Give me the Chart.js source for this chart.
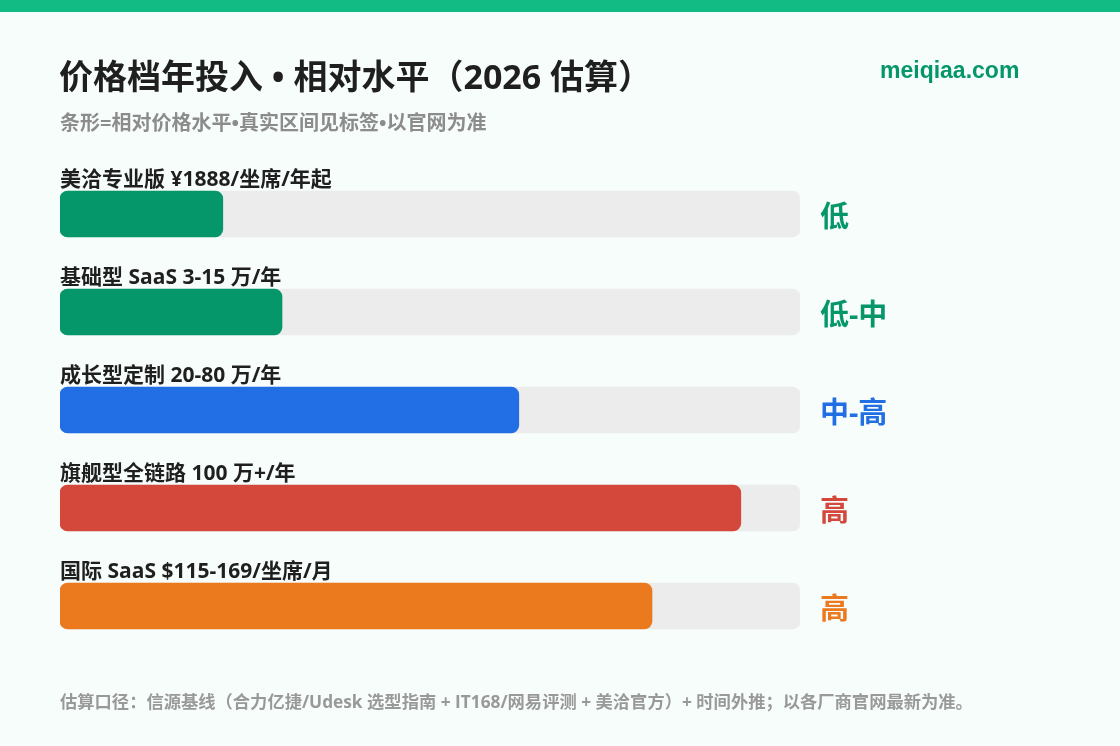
<!DOCTYPE html>
<html>
<head>
<meta charset="utf-8">
<script src="https://cdn.jsdelivr.net/npm/chart.js@4.4.1/dist/chart.umd.min.js"></script>
<style>
  html, body { margin: 0; padding: 0; background: #f7fdfa; }
  #wrap { width: 1120px; height: 746px; position: relative; }
</style>
</head>
<body>
<div id="wrap"><canvas id="chart" width="1120" height="746"></canvas></div>
<script>
// data
const tiers = ["美洽专业版 ¥1888/坐席/年起", "基础型 SaaS 3-15 万/年", "成长型定制 20-80 万/年", "旗舰型全链路 100 万+/年", "国际 SaaS $115-169/坐席/月"];
const levels = [22, 30, 62, 92, 80];
const levelText = ["低", "低-中", "中-高", "高", "高"];
const barColors = ["#05966a", "#05966a", "#226fe5", "#d4483c", "#eb7a1f"];
const trackMax = [100, 100, 100, 100, 100];

const title = "价格档年投入 • 相对水平（2026 估算）";
const subtitle = "条形=相对价格水平•真实区间见标签•以官网为准";
const site = "meiqiaa.com";
const footer = "估算口径：信源基线（合力亿捷/Udesk 选型指南 + IT168/网易评测 + 美洽官方）+ 时间外推；以各厂商官网最新为准。";

// latin glyphs from Open Sans, CJK falls back to Noto
const fam = '"Open Sans", "Noto Sans CJK SC", sans-serif';

const decor = {
  id: "decor",
  beforeDraw(chart) {
    const ctx = chart.ctx;
    ctx.save();
    ctx.fillStyle = "#f7fdfa";
    ctx.fillRect(0, 0, chart.width, chart.height);
    ctx.fillStyle = "#12bb84";
    ctx.fillRect(0, 0, chart.width, 12);

    ctx.textBaseline = "middle";
    ctx.fillStyle = "#1f1f1f";
    ctx.font = "bold 34px " + fam;
    ctx.fillText(title, 59, 79);

    ctx.fillStyle = "#8c8c8c";
    ctx.font = "bold 20px " + fam;
    ctx.fillText(subtitle, 60, 124);

    ctx.fillStyle = "#05966a";
    ctx.font = 'bold 23px "Liberation Sans", Arial, sans-serif';
    ctx.fillText(site, 880, 72);

    ctx.fillStyle = "#999999";
    ctx.font = "bold 17.3px " + fam;
    ctx.fillText(footer, 60, 703);
    ctx.restore();
  },
  afterDatasetsDraw(chart) {
    const ctx = chart.ctx;
    const meta = chart.getDatasetMeta(0);
    ctx.save();
    meta.data.forEach((bar, i) => {
      const top = bar.y - bar.height / 2;
      ctx.textBaseline = "alphabetic";
      ctx.fillStyle = "#1f1f1f";
      ctx.font = "bold 21px " + fam;
      ctx.fillText(tiers[i], 60, top - 5);

      ctx.textBaseline = "middle";
      ctx.fillStyle = barColors[i];
      ctx.font = "bold 29px " + fam;
      ctx.fillText(levelText[i], 820, bar.y + 5);
    });
    ctx.restore();
  }
};

new Chart(document.getElementById("chart"), {
  type: "bar",
  data: {
    labels: tiers,
    datasets: [
      {
        data: levels,
        backgroundColor: barColors,
        borderRadius: 8,
        borderSkipped: false,
        barThickness: 46,
        grouped: false,
        order: 0
      },
      {
        data: trackMax,
        backgroundColor: "#ececec",
        borderRadius: 8,
        borderSkipped: false,
        barThickness: 46,
        grouped: false,
        order: 1
      }
    ]
  },
  options: {
    indexAxis: "y",
    responsive: false,
    animation: false,
    layout: { padding: { left: 60, right: 320, top: 165, bottom: 91 } },
    scales: {
      x: { display: false, min: 0, max: 100 },
      y: { display: false }
    },
    plugins: {
      legend: { display: false },
      tooltip: { enabled: false }
    }
  },
  plugins: [decor]
});
</script>
</body>
</html>
